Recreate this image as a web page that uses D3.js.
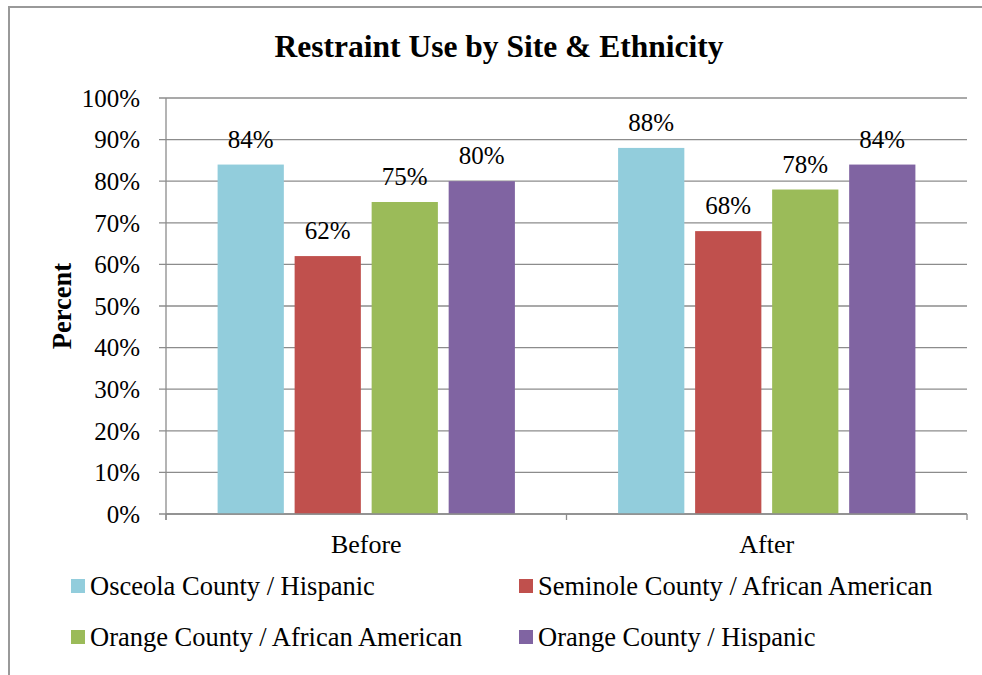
<!DOCTYPE html>
<html><head><meta charset="utf-8">
<script src="https://cdn.jsdelivr.net/npm/d3@7/dist/d3.min.js"></script>
<style>body{margin:0;background:#fff}svg{display:block}</style>
</head><body>
<script>
const categories = ["Before", "After"];
const seriesNames = ["Osceola County / Hispanic", "Seminole County / African American", "Orange County / African American", "Orange County / Hispanic"];
const osceolaHispanic = [0.84, 0.88];
const seminoleAfricanAmerican = [0.62, 0.68];
const orangeAfricanAmerican = [0.75, 0.78];
const orangeHispanic = [0.80, 0.84];
const colors = ["#92CDDC", "#C0504D", "#9BBB59", "#8064A2"];
const yTicks = [0, 0.1, 0.2, 0.3, 0.4, 0.5, 0.6, 0.7, 0.8, 0.9, 1.0];

const seriesValues = [osceolaHispanic, seminoleAfricanAmerican, orangeAfricanAmerican, orangeHispanic];
const W = 982, H = 675;
const font = "'Liberation Serif', 'Times New Roman', serif";
const svg = d3.select("body").append("svg").attr("width", W).attr("height", H);

svg.append("rect").attr("x", 9).attr("y", 7).attr("width", W).attr("height", H)
  .attr("fill", "#fff").attr("stroke", "#999").attr("stroke-width", 2);

const m = {l: 166, r: 967, t: 98, b: 514};
const x0 = d3.scaleBand().domain(categories).range([m.l, m.r]).paddingInner(0).paddingOuter(0);
const x1 = d3.scaleBand().domain(d3.range(seriesNames.length)).range([0, x0.bandwidth()]).paddingInner(0.14).paddingOuter(0.67);
const y = d3.scaleLinear().domain([0, 1]).range([m.b, m.t]);

// gridlines
svg.append("g").selectAll("line").data(yTicks).join("line")
  .attr("x1", m.l - 7).attr("x2", m.r).attr("y1", d => y(d)).attr("y2", d => y(d))
  .attr("stroke", "#8c8c8c").attr("stroke-width", 1.3);

// y axis line
svg.append("line").attr("x1", m.l).attr("x2", m.l).attr("y1", m.t).attr("y2", m.b + 6)
  .attr("stroke", "#8c8c8c").attr("stroke-width", 1.3);

// y tick labels
svg.append("g").selectAll("text").data(yTicks).join("text")
  .attr("x", 140).attr("y", d => y(d)).attr("dy", "0.35em")
  .attr("text-anchor", "end").attr("font-family", font).attr("font-size", 25)
  .attr("fill", "#000").text(d => d3.format(".0%")(d));

// bars
const groups = svg.append("g").selectAll("g").data(categories).join("g")
  .attr("transform", c => `translate(${x0(c)},0)`);
groups.selectAll("rect").data((c, ci) => seriesValues.map((s, si) => ({si, v: s[ci]}))).join("rect")
  .attr("x", d => x1(d.si)).attr("width", x1.bandwidth())
  .attr("y", d => y(d.v)).attr("height", d => y(0) - y(d.v))
  .attr("fill", d => colors[d.si]);
groups.selectAll("text").data((c, ci) => seriesValues.map((s, si) => ({si, v: s[ci]}))).join("text")
  .attr("x", d => x1(d.si) + x1.bandwidth() / 2).attr("y", d => y(d.v) - 17)
  .attr("text-anchor", "middle").attr("font-family", font).attr("font-size", 25)
  .text(d => d3.format(".0%")(d.v));

// x axis
svg.append("line").attr("x1", m.l).attr("x2", m.r).attr("y1", m.b).attr("y2", m.b)
  .attr("stroke", "#8c8c8c").attr("stroke-width", 1.3);
const xt = categories.map(c => x0(c)).concat([m.r]);
svg.append("g").selectAll("line").data(xt).join("line")
  .attr("x1", d => d).attr("x2", d => d).attr("y1", m.b).attr("y2", m.b + 6)
  .attr("stroke", "#8c8c8c").attr("stroke-width", 1.3);
svg.append("g").selectAll("text").data(categories).join("text")
  .attr("x", c => x0(c) + x0.bandwidth() / 2).attr("y", 553)
  .attr("text-anchor", "middle").attr("font-family", font).attr("font-size", 26).text(c => c);

// title
svg.append("text").attr("x", 499).attr("y", 57).attr("text-anchor", "middle")
  .attr("font-family", font).attr("font-size", 31.5).attr("font-weight", "bold")
  .text("Restraint Use by Site & Ethnicity");

// y title
svg.append("text").attr("transform", "translate(71,306) rotate(-90)").attr("text-anchor", "middle")
  .attr("font-family", font).attr("font-size", 26.5).attr("font-weight", "bold").text("Percent");

// legend
const legPos = [[71, 595], [519, 595], [71, 646], [519, 646]];
const leg = svg.append("g").selectAll("g").data(seriesNames).join("g")
  .attr("transform", (d, i) => `translate(${legPos[i][0]},${legPos[i][1]})`);
leg.append("rect").attr("x", 0).attr("y", -16).attr("width", 14).attr("height", 14).attr("fill", (d, i) => colors[i]);
leg.append("text").attr("x", 19).attr("y", 0).attr("font-family", font)
  .attr("font-size", 26.5).text(d => d);
</script>
</body></html>
